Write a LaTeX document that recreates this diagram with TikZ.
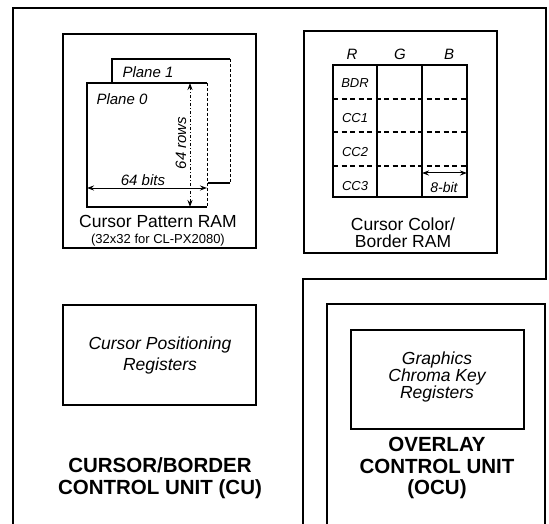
\documentclass[tikz,border=0pt]{standalone}
\usepackage{fontspec}
\setmainfont{Liberation Sans}
\usetikzlibrary{arrows.meta}
\begin{document}
\begin{tikzpicture}[x=1pt,y=-1pt,
  outline/.style={draw, line width=2pt, line join=miter},
  thickbox/.style={draw, line width=2.2pt, minimum width=#1, inner sep=0, anchor=north west},
  planeline/.style={line width=1.4pt},
  faint/.style={line width=0.7pt, densely dashed},
  grid/.style={line width=1.1pt},
  dim/.style={line width=1pt, {Stealth[length=7pt,width=5pt]}-{Stealth[length=7pt,width=5pt]}},
  itl/.style={font=\fontsize{15}{17}\selectfont\itshape, inner sep=0},
  small/.style={font=\fontsize{13}{15}\selectfont\itshape, inner sep=0},
  lab/.style={font=\fontsize{17.5}{21}\selectfont, align=center, inner sep=0},
  ilab/.style={font=\fontsize{17.5}{19}\selectfont\itshape, align=center, inner sep=0},
  blab/.style={font=\fontsize{20.5}{21.5}\selectfont\bfseries, align=center, inner sep=0}]
\useasboundingbox (0,0) rectangle (549,524);
% outer unit outlines
\draw[outline] (13,524) -- (13,8) -- (546,8) -- (546,279) -- (303,279) -- (303,524);
\draw[outline] (327,524) -- (327,304) -- (545,304) -- (545,524);
% boxes
\node[thickbox=193, minimum height=214] (cpr) at (62,33) {};
\node[thickbox=193, minimum height=222] (ccr) at (303,30) {};
\node[thickbox=193, minimum height=100] (cpos) at (62,304) {};
\node[thickbox=173, minimum height=99] (gck) at (350,329) {};
% planes
\coordinate (p1a) at (112,83);
\coordinate (p1b) at (112,59);
\coordinate (p1c) at (230,59);
\coordinate (p1d) at (230,183);
\coordinate (p1e) at (208,183);
\draw[planeline] (p1a) -- (p1b) -- (p1c);
\draw[faint] (p1c) -- (p1d);
\draw[planeline] (p1d) -- (p1e);
\coordinate (p0a) at (207,83);
\coordinate (p0b) at (87,83);
\coordinate (p0c) at (87,207);
\coordinate (p0d) at (207,207);
\draw[planeline] (p0a) -- (p0b) -- (p0c) -- (p0d);
\draw[faint] (p0a) -- (p0d);
\coordinate (rt) at (190,83);
\coordinate (rb) at (190,207);
\draw[dim, dash dot] (rt) -- (rb);
\coordinate (bl) at (87,188);
\coordinate (br) at (207,188);
\draw[dim] (bl) -- (br);
\node[itl] (pl1) at (148,72) {Plane 1};
\node[itl] (pl0) at (122,99) {Plane 0};
\node[itl, rotate=90] (rows) at (181,143) {64 rows};
\node[itl] (bits) at (143,180) {64 bits};
\node[lab] (cprt) at (158,231) {\fontsize{17.5}{11}\selectfont Cursor Pattern RAM\\[-5pt]
  \fontsize{13}{11}\selectfont (32x32 for CL-PX2080)};
% color table
\coordinate (t1) at (333,65);
\coordinate (t2) at (467,197);
\draw[grid] (t1) rectangle (t2);
\coordinate (c1t) at (377,65); \coordinate (c1b) at (377,197);
\coordinate (c2t) at (422,65); \coordinate (c2b) at (422,197);
\draw[grid] (c1t) -- (c1b) (c2t) -- (c2b);
\coordinate (r1l) at (333,99); \coordinate (r1r) at (467,99);
\coordinate (r2l) at (333,132); \coordinate (r2r) at (467,132);
\coordinate (r3l) at (333,166); \coordinate (r3r) at (467,166);
\draw[grid, line width=1.4pt, dash pattern=on 5pt off 3.5pt] (r1l) -- (r1r) (r2l) -- (r2r) (r3l) -- (r3r);
\coordinate (al) at (422,173); \coordinate (ar) at (467,173);
\draw[dim] (al) -- (ar);
\node[itl] (hR) at (352,54) {R};
\node[itl] (hG) at (400,54) {G};
\node[itl] (hB) at (449,54) {B};
\node[small] (bdr) at (355,83) {BDR};
\node[small] (cc1) at (355,118) {CC1};
\node[small] (cc2) at (355,152) {CC2};
\node[small] (cc3) at (355,186) {CC3};
\node[small, font=\fontsize{14}{16}\selectfont\itshape] (eb) at (444,187) {8-bit};
\node[lab, font=\fontsize{17.5}{17}\selectfont] (ccrt) at (403,233) {Cursor Color/\\Border RAM};
% lower left
\node[ilab, font=\fontsize{17.5}{21}\selectfont\itshape] (cpost) at (160,355) {Cursor Positioning\\Registers};
\node[blab] (cut) at (160,478) {CURSOR/BORDER\\CONTROL UNIT (CU)};
% lower right
\node[ilab, font=\fontsize{17.5}{17}\selectfont\itshape] (gckt) at (437,377) {Graphics\\Chroma Key\\Registers};
\node[blab] (ocut) at (437,468) {OVERLAY\\CONTROL UNIT\\(OCU)};
\end{tikzpicture}
\end{document}
